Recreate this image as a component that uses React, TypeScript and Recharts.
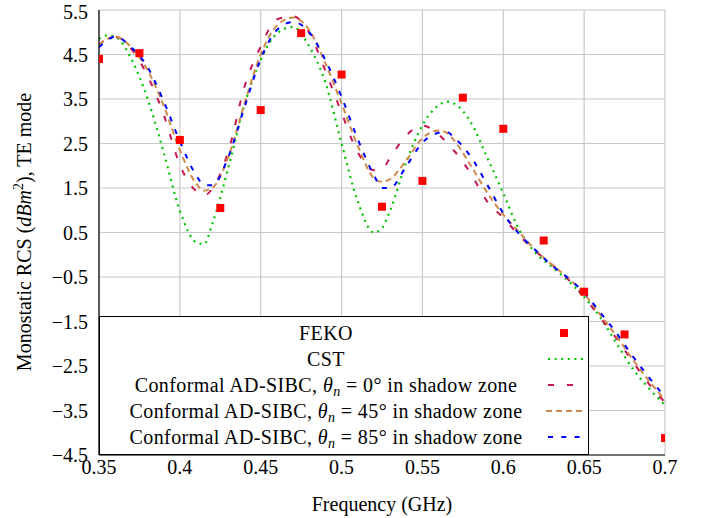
import React from 'react';
import { ComposedChart, Line, Scatter, XAxis, YAxis, CartesianGrid } from 'recharts';

// frequency samples (GHz) shared by the simulated curves
const freqs = [0.35, 0.355, 0.36, 0.37, 0.38, 0.39, 0.40, 0.41, 0.415, 0.42, 0.43, 0.44, 0.45, 0.46, 0.47, 0.48, 0.49, 0.50, 0.51, 0.52, 0.525, 0.53, 0.54, 0.55, 0.56, 0.565, 0.57, 0.58, 0.59, 0.60, 0.61, 0.62, 0.63, 0.64, 0.65, 0.66, 0.67, 0.68, 0.69, 0.70];

const cst = [4.85, 4.93, 4.90, 4.40, 3.51, 2.30, 0.99, 0.28, 0.24, 0.69, 1.96, 3.37, 4.38, 4.97, 5.12, 4.68, 3.87, 2.50, 1.20, 0.50, 0.60, 0.99, 2.08, 2.91, 3.36, 3.44, 3.39, 2.97, 2.19, 1.38, 0.55, 0.04, -0.27, -0.58, -0.95, -1.41, -1.99, -2.56, -3.00, -3.38];
const sibc0 = [4.72, 4.85, 4.90, 4.62, 4.02, 3.15, 2.02, 1.43, 1.33, 1.48, 2.33, 3.78, 4.68, 5.29, 5.36, 4.99, 4.13, 3.19, 2.30, 1.90, 1.92, 2.18, 2.68, 2.90, 2.70, 2.52, 2.32, 1.82, 1.20, 0.83, 0.43, 0.08, -0.22, -0.55, -0.95, -1.42, -1.88, -2.40, -2.90, -3.32];
const sibc45 = [4.72, 4.85, 4.90, 4.66, 4.15, 3.35, 2.35, 1.60, 1.44, 1.50, 2.20, 3.40, 4.50, 5.15, 5.33, 5.05, 4.30, 3.40, 2.45, 1.72, 1.64, 1.70, 2.12, 2.62, 2.79, 2.74, 2.55, 2.00, 1.40, 0.90, 0.50, 0.10, -0.22, -0.52, -0.88, -1.35, -1.83, -2.35, -2.83, -3.27];
const sibc85 = [4.66, 4.82, 4.90, 4.66, 4.22, 3.45, 2.55, 1.79, 1.57, 1.56, 2.20, 3.32, 4.40, 5.05, 5.23, 5.00, 4.37, 3.55, 2.60, 1.79, 1.50, 1.50, 1.99, 2.52, 2.74, 2.76, 2.62, 2.20, 1.58, 0.93, 0.46, 0.10, -0.24, -0.52, -0.85, -1.30, -1.76, -2.28, -2.75, -3.20];

// FEKO reference points
const fekoFreqs = [0.35, 0.375, 0.40, 0.425, 0.45, 0.475, 0.50, 0.525, 0.55, 0.575, 0.60, 0.625, 0.65, 0.675, 0.70];
const feko = [4.40, 4.53, 2.58, 1.05, 3.25, 4.98, 4.05, 1.08, 1.66, 3.53, 2.83, 0.32, -0.83, -1.79, -4.12];

const xTicks = [0.35, 0.4, 0.45, 0.5, 0.55, 0.6, 0.65, 0.7];
const yTicks = [-4.5, -3.5, -2.5, -1.5, -0.5, 0.5, 1.5, 2.5, 3.5, 4.5, 5.5];

const FONT = 'Liberation Serif, DejaVu Serif, serif';
const GREEN = '#00c400';
const CRIMSON = '#c8164f';
const TAN = '#cd8a4c';
const BLUE = '#0000ff';

const lineData = freqs.map((f, i) => ({ f, cst: cst[i], s0: sibc0[i], s45: sibc45[i], s85: sibc85[i] }));
const fekoData = fekoFreqs.map((f, i) => ({ f, feko: feko[i] }));

const fmtNum = (v: number) => (v < 0 ? '\u2212' + String(Math.abs(v)) : String(v));

const Square = (p: any) => <rect x={p.cx - 4} y={p.cy - 4} width={8} height={8} fill="#ff0000" />;

const frame = { stroke: '#000', strokeWidth: 1.2 };
const innerTick = { stroke: '#555', strokeWidth: 1 };
const hiddenLabel = { fontSize: 0, fill: 'none' };

function SibcText({ angle }: { angle: string }) {
  return (
    <span>
      Conformal AD-SIBC, <i>θ</i>
      <i style={{ fontSize: 14, verticalAlign: -4, lineHeight: 0 }}>n</i> = {angle}° in shadow zone
    </span>
  );
}

function ChartLegend() {
  const rows: { text: React.ReactNode; marker: React.ReactNode }[] = [
    { text: 'FEKO', marker: <rect x={16} y={9} width={8} height={8} fill="#ff0000" /> },
    { text: 'CST', marker: <line x1={4} y1={13} x2={39} y2={13} stroke={GREEN} strokeWidth={2.2} strokeDasharray="2 4.6" /> },
    { text: <SibcText angle="0" />, marker: <line x1={4} y1={13} x2={39} y2={13} stroke={CRIMSON} strokeWidth={2} strokeDasharray="6 13" /> },
    { text: <SibcText angle="45" />, marker: <line x1={2} y1={13} x2={40} y2={13} stroke={TAN} strokeWidth={2} strokeDasharray="6 4" /> },
    { text: <SibcText angle="85" />, marker: <line x1={4} y1={13} x2={39} y2={13} stroke={BLUE} strokeWidth={2} strokeDasharray="5 8.3" /> },
  ];
  return (
    <div
      style={{
        position: 'absolute',
        left: 99,
        top: 316,
        width: 490,
        height: 139,
        background: '#fff',
        border: '1px solid #000',
        boxSizing: 'border-box',
        paddingTop: 3,
        fontFamily: FONT,
        fontSize: 20,
        letterSpacing: 0.4,
      }}
    >
      {rows.map((r, i) => (
        <div key={i} style={{ position: 'relative', height: 26, lineHeight: '26px' }}>
          <div style={{ position: 'absolute', left: 0, width: 452, textAlign: 'center', whiteSpace: 'nowrap' }}>{r.text}</div>
          <svg style={{ position: 'absolute', left: 444, top: 0 }} width={44} height={26}>
            {r.marker}
          </svg>
        </div>
      ))}
    </div>
  );
}

const YLabel = () => (
  <text x={31} y={232} transform="rotate(-90, 31, 232)" textAnchor="middle" fontFamily={FONT} fontSize={20} fill="#000">
    Monostatic RCS (<tspan fontStyle="italic">dBm</tspan>
    <tspan dy={-8} fontSize={14}>2</tspan>
    <tspan dy={8}>), TE mode</tspan>
  </text>
);

const XLabel = () => (
  <text x={382} y={511} textAnchor="middle" fontFamily={FONT} fontSize={20} fill="#000">
    Frequency (GHz)
  </text>
);

export default function App() {
  return (
    <div style={{ position: 'absolute', left: 0, top: 0, width: 705, height: 518, background: '#fff' }}>
      <ComposedChart width={705} height={518} data={lineData} margin={{ top: 10, right: 40, bottom: 0, left: 0 }}>
        <CartesianGrid stroke="#c8c8c8" strokeWidth={1.2} />
        <XAxis
          dataKey="f"
          type="number"
          domain={[0.35, 0.7]}
          ticks={xTicks}
          allowDataOverflow
          height={63}
          tickLine={false}
          tickSize={4}
          tickMargin={1}
          tickFormatter={fmtNum}
          tick={{ fontFamily: FONT, fontSize: 20, fill: '#000' }}
          axisLine={frame}
          label={<XLabel />}
        />
        {/* inward tick marks and frame on the other sides */}
        <XAxis xAxisId="top" orientation="top" type="number" domain={[0.35, 0.7]} ticks={xTicks} height={0} mirror tickSize={5} tick={hiddenLabel} tickLine={innerTick} axisLine={frame} />
        <XAxis xAxisId="bot" orientation="bottom" type="number" domain={[0.35, 0.7]} ticks={xTicks} height={0} mirror tickSize={5} tick={hiddenLabel} tickLine={innerTick} axisLine={false} />
        <YAxis
          type="number"
          domain={[-4.5, 5.5]}
          ticks={yTicks}
          allowDataOverflow
          width={99}
          tickLine={false}
          tickSize={4}
          tickMargin={7}
          tickFormatter={fmtNum}
          tick={{ fontFamily: FONT, fontSize: 20, fill: '#000' }}
          axisLine={frame}
          label={<YLabel />}
        />
        <YAxis yAxisId="r" orientation="right" type="number" domain={[-4.5, 5.5]} ticks={yTicks} width={0} mirror tickSize={5} tick={hiddenLabel} tickLine={innerTick} axisLine={frame} />
        <YAxis yAxisId="l" orientation="left" type="number" domain={[-4.5, 5.5]} ticks={yTicks} width={0} mirror tickSize={5} tick={hiddenLabel} tickLine={innerTick} axisLine={false} />
        <Line dataKey="cst" type="monotone" stroke={GREEN} strokeWidth={2.2} strokeDasharray="2 4.6" dot={false} isAnimationActive={false} />
        <Line dataKey="s0" type="monotone" stroke={CRIMSON} strokeWidth={2} strokeDasharray="6 13" dot={false} isAnimationActive={false} />
        <Line dataKey="s45" type="monotone" stroke={TAN} strokeWidth={2} strokeDasharray="6 4" dot={false} isAnimationActive={false} />
        <Line dataKey="s85" type="monotone" stroke={BLUE} strokeWidth={2} strokeDasharray="5 8.3" dot={false} isAnimationActive={false} />
        <Scatter data={fekoData} dataKey="feko" shape={Square} isAnimationActive={false} />
      </ComposedChart>
      <ChartLegend />
    </div>
  );
}
